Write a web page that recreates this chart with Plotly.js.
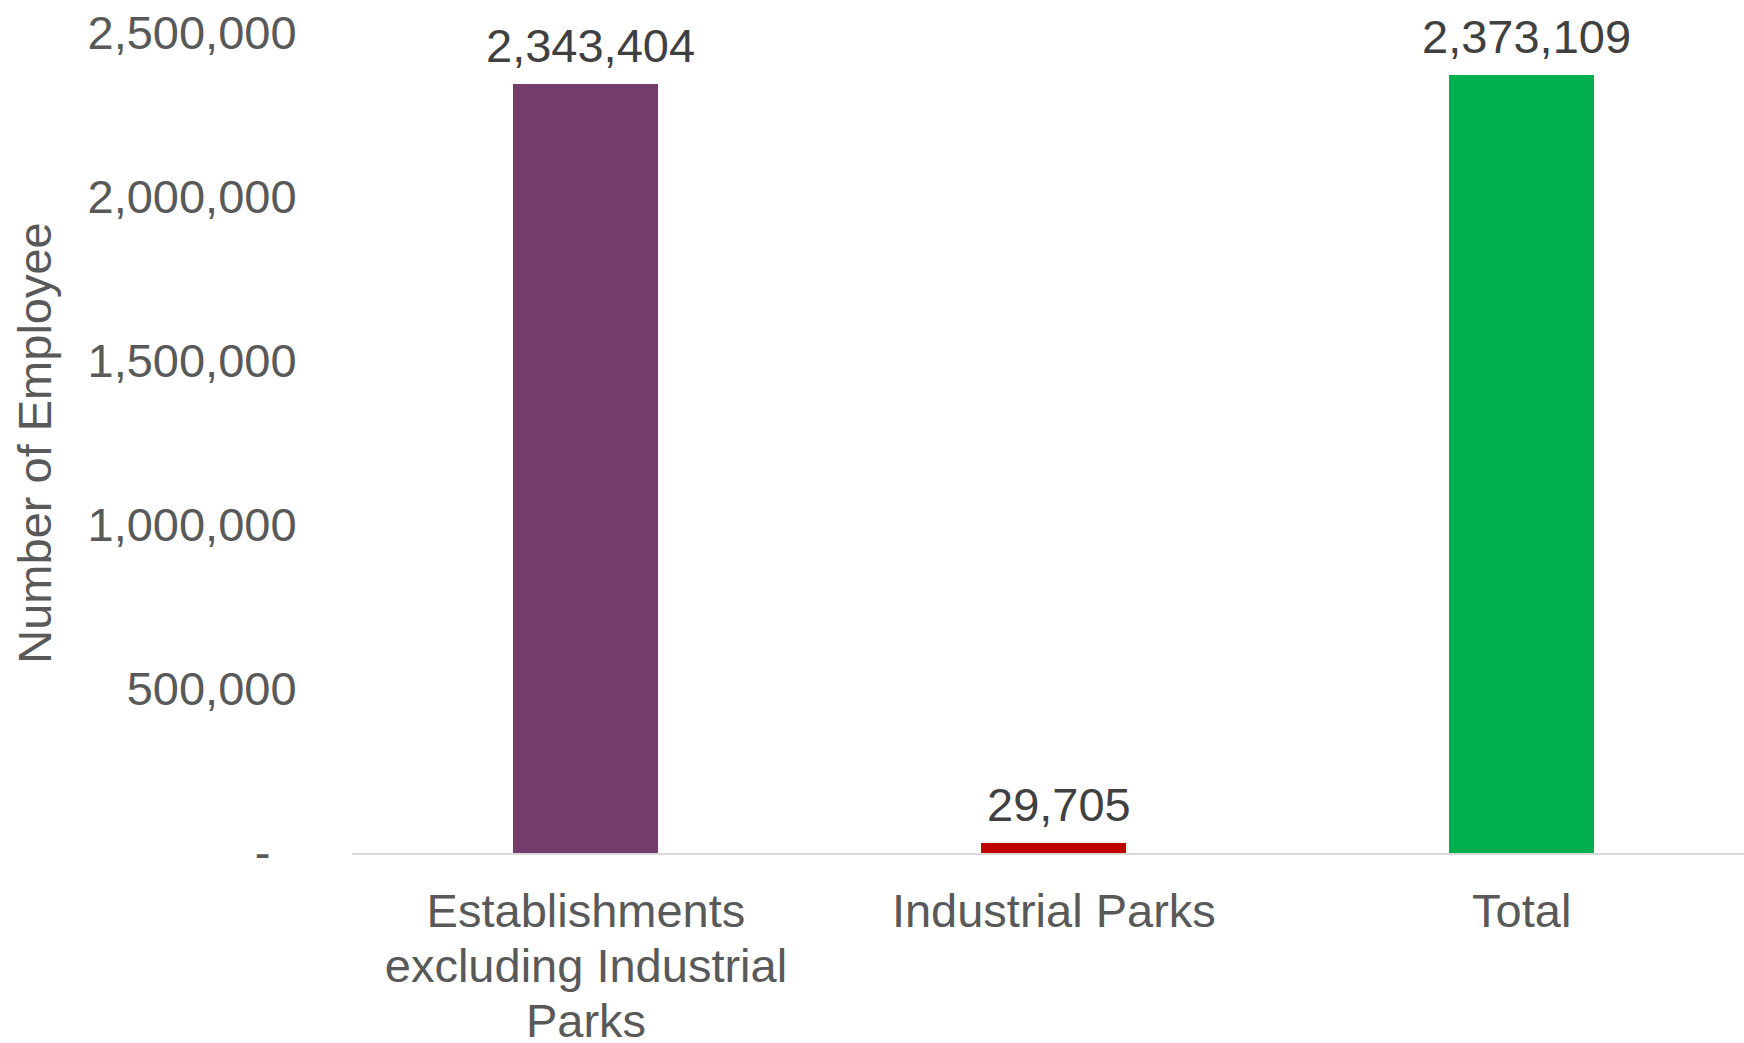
<!DOCTYPE html>
<html>
<head>
<meta charset="utf-8">
<script src="https://cdn.plot.ly/plotly-3.0.1.min.js"></script>
<style>html,body{margin:0;padding:0;background:#fff;}#chart{width:1744px;height:1043px;}</style>
</head>
<body>
<div id="chart"></div>
<script>
// Data
const categories = ["Establishments excluding Industrial Parks", "Industrial Parks", "Total"];
const categoryLabels = ["Establishments<br>excluding Industrial<br>Parks", "Industrial Parks", "Total"];
const employees = [2343404, 29705, 2373109];
const yTickValues = [0, 500000, 1000000, 1500000, 2000000, 2500000];
const yTickLabels = ["-\u00a0\u00a0", "500,000", "1,000,000", "1,500,000", "2,000,000", "2,500,000"];

// Styles
const barColors = ["#733C6B", "#C00000", "#00B050"];
const FONT = "Liberation Sans, Arial, sans-serif";
const fmt = v => v.toLocaleString("en-US");

const trace = {
  type: "bar",
  x: categories,
  y: employees,
  width: 0.31,
  marker: { color: barColors },
  hoverinfo: "none"
};

const annotations = categories.map((c, i) => ({
  x: c, y: employees[i], xref: "x", yref: "y",
  text: fmt(employees[i]),
  showarrow: false, yanchor: "bottom", yshift: 10, xshift: 5,
  font: { family: FONT, size: 47, color: "#404040" }
}));

const layout = {
  width: 1744, height: 1043,
  margin: { l: 352, r: 0, t: 33, b: 190 },
  paper_bgcolor: "#ffffff", plot_bgcolor: "#ffffff",
  showlegend: false,
  bargap: 0,
  xaxis: {
    type: "category",
    categoryorder: "array", categoryarray: categories,
    tickvals: categories, ticktext: categoryLabels,
    range: [-0.5, 2.475],
    showgrid: false, zeroline: false,
    showline: true, linecolor: "#d9d9d9", linewidth: 2,
    ticks: "outside", ticklen: 16, tickcolor: "rgba(0,0,0,0)",
    tickfont: { family: FONT, size: 47, color: "#595959" }
  },
  yaxis: {
    range: [0, 2500000],
    tickvals: yTickValues, ticktext: yTickLabels,
    showgrid: false, zeroline: false, showline: false,
    ticks: "outside", ticklen: 45, tickcolor: "rgba(0,0,0,0)",
    tickfont: { family: FONT, size: 47, color: "#595959" },
    title: { text: "Number of Employee", standoff: 21, font: { family: FONT, size: 47, color: "#595959" } }
  },
  annotations: annotations
};

Plotly.newPlot("chart", [trace], layout, { displayModeBar: false, staticPlot: true }).then(() => {
  // tighten line spacing of multi-line category labels to match reference
  document.querySelectorAll("#chart .xtick text tspan.line").forEach(t => {
    const dy = parseFloat(t.getAttribute("dy") || "0");
    if (dy > 0) t.setAttribute("dy", (dy * 1.17 / 1.3).toFixed(3) + "em");
  });
});
</script>
</body>
</html>
